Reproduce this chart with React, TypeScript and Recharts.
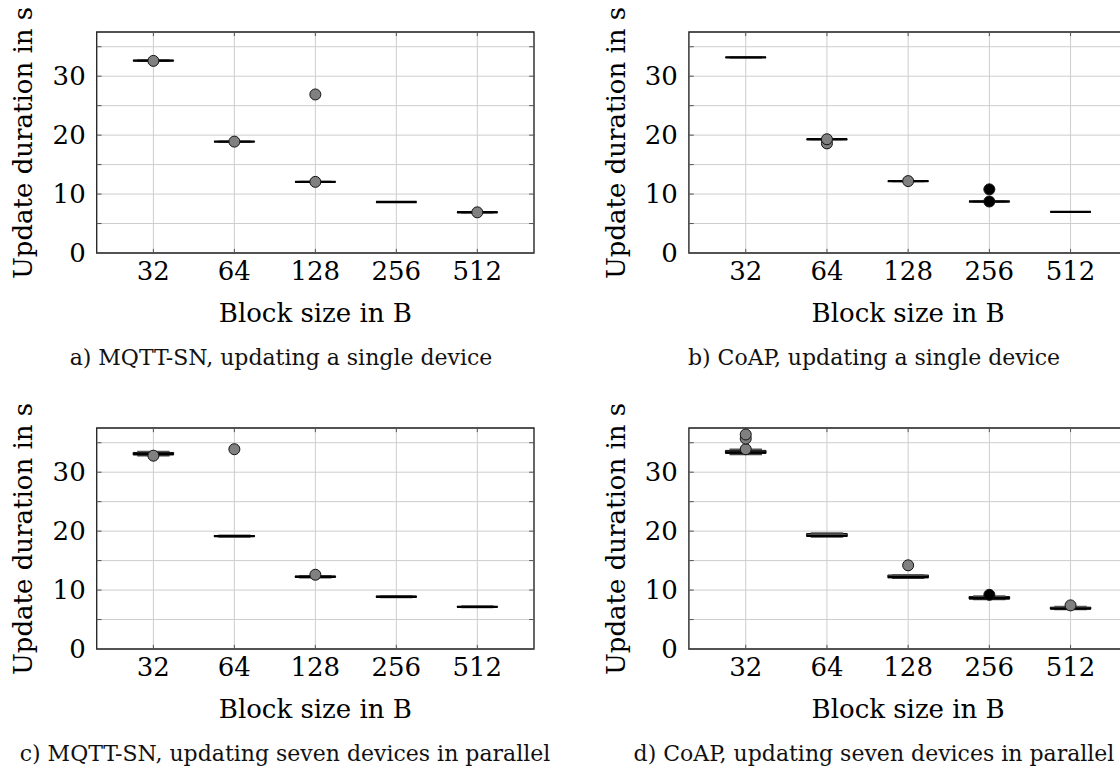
import React from "react";
import {
  CartesianGrid,
  ComposedChart,
  ReferenceArea,
  ReferenceLine,
  Scatter,
  XAxis,
  YAxis,
} from "recharts";

const blockSizes = ["32", "64", "128", "256", "512"];
const positions = [1, 2, 3, 4, 5];
const yTicks = [0, 5, 10, 15, 20, 25, 30, 35];

// a) MQTT-SN, single device
const mqttSingleLower = [32.55, 18.85, 12.0, 8.6, 6.85];
const mqttSingleQ1 = [32.6, 18.88, 12.04, 8.62, 6.88];
const mqttSingleMedian = [32.65, 18.9, 12.07, 8.65, 6.92];
const mqttSingleQ3 = [32.7, 18.93, 12.1, 8.67, 6.95];
const mqttSingleUpper = [32.75, 18.97, 12.14, 8.7, 6.98];
const mqttSingleOutliers = [
  { x: 1, y: 32.6 },
  { x: 2, y: 18.9 },
  { x: 3, y: 12.07 },
  { x: 3, y: 26.9 },
  { x: 5, y: 6.9 },
];

// b) CoAP, single device
const coapSingleLower = [33.15, 19.25, 12.15, 8.7, 6.95];
const coapSingleQ1 = [33.18, 19.28, 12.18, 8.72, 6.96];
const coapSingleMedian = [33.2, 19.3, 12.2, 8.74, 6.97];
const coapSingleQ3 = [33.22, 19.32, 12.22, 8.76, 6.98];
const coapSingleUpper = [33.25, 19.35, 12.25, 8.78, 7.0];
const coapSingleOutliers = [
  { x: 2, y: 18.6 },
  { x: 2, y: 19.3 },
  { x: 3, y: 12.2 },
  { x: 4, y: 8.74, dark: true },
  { x: 4, y: 10.8, dark: true },
];

// c) MQTT-SN, seven devices
const mqttSevenLower = [32.8, 19.0, 12.1, 8.75, 7.05];
const mqttSevenQ1 = [32.95, 19.08, 12.18, 8.8, 7.1];
const mqttSevenMedian = [33.1, 19.15, 12.25, 8.86, 7.15];
const mqttSevenQ3 = [33.35, 19.25, 12.35, 8.95, 7.22];
const mqttSevenUpper = [33.5, 19.3, 12.45, 9.0, 7.28];
const mqttSevenOutliers = [
  { x: 1, y: 32.8 },
  { x: 2, y: 33.9 },
  { x: 3, y: 12.6 },
];

// d) CoAP, seven devices
const coapSevenLower = [33.0, 19.0, 12.0, 8.4, 6.7];
const coapSevenQ1 = [33.2, 19.1, 12.1, 8.5, 6.8];
const coapSevenMedian = [33.35, 19.2, 12.2, 8.6, 6.85];
const coapSevenQ3 = [33.7, 19.6, 12.55, 8.9, 7.1];
const coapSevenUpper = [33.9, 19.7, 12.6, 9.0, 7.2];
const coapSevenOutliers = [
  { x: 1, y: 33.9 },
  { x: 1, y: 35.7 },
  { x: 1, y: 36.4 },
  { x: 3, y: 14.2 },
  { x: 4, y: 9.2, dark: true },
  { x: 5, y: 7.4 },
];

const FONT = "DejaVu Serif";
const X_DOMAIN: [number, number] = [0.3, 5.7];
const Y_DOMAIN: [number, number] = [0, 37.5];
const BOX_HALF = 0.25;
const CAP_HALF = 0.2;
// length of the small inward tick marks, in data units
const X_MARK = 0.06;
const Y_MARK = 0.7;

interface PanelProps {
  lower: number[];
  q1: number[];
  median: number[];
  q3: number[];
  upper: number[];
  outliers: Array<{ x: number; y: number; dark?: boolean }>;
  caption: string;
  left: number;
  top: number;
  width: number;
  marginLeft: number;
  marginRight: number;
  yLabelX: number;
  captionX: number;
}

function OutlierDot(props: any) {
  const { cx, cy, payload } = props;
  if (cx == null || cy == null) return null;
  return (
    <circle
      cx={cx}
      cy={cy}
      r={5.5}
      fill={payload?.dark ? "#000" : "#808080"}
      stroke="#111"
      strokeWidth={1}
    />
  );
}

function Panel({
  lower,
  q1,
  median,
  q3,
  upper,
  outliers,
  caption,
  left,
  top,
  width,
  marginLeft,
  marginRight,
  yLabelX,
  captionX,
}: PanelProps) {
  const height = 300;
  const margin = { top: 32, right: marginRight, bottom: 17, left: marginLeft };
  const plotLeft = marginLeft + 40;
  const plotRight = width - marginRight;
  const plotMidX = (plotLeft + plotRight) / 2;
  const plotMidY = 32 + (height - 32 - 17 - 30) / 2;

  return (
    <div style={{ position: "absolute", left, top, width, height: 390 }}>
      <ComposedChart width={width} height={height} margin={margin}>
        <CartesianGrid stroke="#cdcdcd" strokeWidth={1} />
        <XAxis
          type="number"
          dataKey="x"
          domain={X_DOMAIN}
          ticks={positions}
          allowDataOverflow
          tickFormatter={(v: number) => blockSizes[v - 1] ?? ""}
          axisLine={false}
          tickLine={false}
          tickSize={6}
          tickMargin={3}
          height={30}
          tick={{ fill: "#000", fontSize: 26, fontFamily: FONT }}
        />
        <YAxis
          type="number"
          dataKey="y"
          domain={Y_DOMAIN}
          ticks={yTicks}
          allowDataOverflow
          tickFormatter={(v: number) => (v % 10 === 0 ? String(v) : "")}
          axisLine={false}
          tickLine={false}
          tickSize={8}
          tickMargin={3}
          width={40}
          tick={{ fill: "#000", fontSize: 26, fontFamily: FONT }}
        />

        {/* inward tick marks on the frame */}
        {positions.map((p) => (
          <ReferenceLine
            key={`tb-${p}`}
            segment={[
              { x: p, y: Y_DOMAIN[0] },
              { x: p, y: Y_DOMAIN[0] + Y_MARK },
            ]}
            stroke="#555"
            strokeWidth={1}
          />
        ))}
        {positions.map((p) => (
          <ReferenceLine
            key={`tt-${p}`}
            segment={[
              { x: p, y: Y_DOMAIN[1] - Y_MARK },
              { x: p, y: Y_DOMAIN[1] },
            ]}
            stroke="#555"
            strokeWidth={1}
          />
        ))}
        {yTicks.map((v) => (
          <ReferenceLine
            key={`tl-${v}`}
            segment={[
              { x: X_DOMAIN[0], y: v },
              { x: X_DOMAIN[0] + X_MARK, y: v },
            ]}
            stroke="#555"
            strokeWidth={1}
          />
        ))}
        {yTicks.map((v) => (
          <ReferenceLine
            key={`tr-${v}`}
            segment={[
              { x: X_DOMAIN[1] - X_MARK, y: v },
              { x: X_DOMAIN[1], y: v },
            ]}
            stroke="#555"
            strokeWidth={1}
          />
        ))}

        {positions.map((p, i) => (
          <ReferenceLine
            key={`wl-${i}`}
            segment={[
              { x: p, y: lower[i] },
              { x: p, y: q1[i] },
            ]}
            stroke="#222"
            strokeWidth={1}
          />
        ))}
        {positions.map((p, i) => (
          <ReferenceLine
            key={`wu-${i}`}
            segment={[
              { x: p, y: q3[i] },
              { x: p, y: upper[i] },
            ]}
            stroke="#222"
            strokeWidth={1}
          />
        ))}
        {positions.map((p, i) => (
          <ReferenceLine
            key={`cl-${i}`}
            segment={[
              { x: p - CAP_HALF, y: lower[i] },
              { x: p + CAP_HALF, y: lower[i] },
            ]}
            stroke="#444"
            strokeWidth={1.5}
          />
        ))}
        {positions.map((p, i) => (
          <ReferenceLine
            key={`cu-${i}`}
            segment={[
              { x: p - CAP_HALF, y: upper[i] },
              { x: p + CAP_HALF, y: upper[i] },
            ]}
            stroke="#555"
            strokeWidth={1.5}
          />
        ))}
        {positions.map((p, i) => (
          <ReferenceArea
            key={`box-${i}`}
            x1={p - BOX_HALF}
            x2={p + BOX_HALF}
            y1={q1[i]}
            y2={q3[i]}
            fill="#6a6a6a"
            fillOpacity={1}
            stroke="#111"
            strokeWidth={1}
          />
        ))}
        {positions.map((p, i) => (
          <ReferenceLine
            key={`med-${i}`}
            segment={[
              { x: p - BOX_HALF, y: median[i] },
              { x: p + BOX_HALF, y: median[i] },
            ]}
            stroke="#000"
            strokeWidth={2.4}
          />
        ))}

        <Scatter
          data={outliers}
          dataKey="y"
          shape={<OutlierDot />}
          isAnimationActive={false}
        />

        <ReferenceArea
          x1={X_DOMAIN[0]}
          x2={X_DOMAIN[1]}
          y1={Y_DOMAIN[0]}
          y2={Y_DOMAIN[1]}
          fill="none"
          stroke="#222"
          strokeWidth={1.3}
          ifOverflow="visible"
        />
      </ComposedChart>

      <div
        style={{
          position: "absolute",
          left: yLabelX,
          top: plotMidY,
          transform: "translate(-50%, -50%) rotate(-90deg)",
          whiteSpace: "nowrap",
          fontFamily: FONT,
          fontSize: 26,
          lineHeight: 1,
          color: "#000",
        }}
      >
        Update duration in s
      </div>
      <div
        style={{
          position: "absolute",
          left: plotMidX,
          top: 313,
          transform: "translate(-50%, -50%)",
          whiteSpace: "nowrap",
          fontFamily: FONT,
          fontSize: 26,
          lineHeight: 1,
          color: "#000",
        }}
      >
        Block size in B
      </div>
      <div
        style={{
          position: "absolute",
          left: captionX,
          top: 358,
          transform: "translate(-50%, -50%)",
          whiteSpace: "nowrap",
          fontFamily: FONT,
          fontSize: 22,
          lineHeight: 1,
          color: "#111",
        }}
      >
        {caption}
      </div>
    </div>
  );
}

export default function App() {
  return (
    <div
      style={{
        position: "absolute",
        left: 0,
        top: 0,
        width: 1120,
        height: 771,
        overflow: "hidden",
        background: "#fff",
      }}
    >
      <Panel
        lower={mqttSingleLower}
        q1={mqttSingleQ1}
        median={mqttSingleMedian}
        q3={mqttSingleQ3}
        upper={mqttSingleUpper}
        outliers={mqttSingleOutliers}
        caption="a) MQTT-SN, updating a single device"
        left={0}
        top={0}
        width={560}
        marginLeft={56.7}
        marginRight={26}
        yLabelX={23}
        captionX={281}
      />
      <Panel
        lower={coapSingleLower}
        q1={coapSingleQ1}
        median={coapSingleMedian}
        q3={coapSingleQ3}
        upper={coapSingleUpper}
        outliers={coapSingleOutliers}
        caption="b) CoAP, updating a single device"
        left={560}
        top={0}
        width={580}
        marginLeft={88.9}
        marginRight={12.6}
        yLabelX={55.5}
        captionX={314}
      />
      <Panel
        lower={mqttSevenLower}
        q1={mqttSevenQ1}
        median={mqttSevenMedian}
        q3={mqttSevenQ3}
        upper={mqttSevenUpper}
        outliers={mqttSevenOutliers}
        caption="c) MQTT-SN, updating seven devices in parallel"
        left={0}
        top={396}
        width={560}
        marginLeft={56.7}
        marginRight={26}
        yLabelX={23}
        captionX={285}
      />
      <Panel
        lower={coapSevenLower}
        q1={coapSevenQ1}
        median={coapSevenMedian}
        q3={coapSevenQ3}
        upper={coapSevenUpper}
        outliers={coapSevenOutliers}
        caption="d) CoAP, updating seven devices in parallel"
        left={560}
        top={396}
        width={580}
        marginLeft={88.9}
        marginRight={12.6}
        yLabelX={55.5}
        captionX={314}
      />
    </div>
  );
}
